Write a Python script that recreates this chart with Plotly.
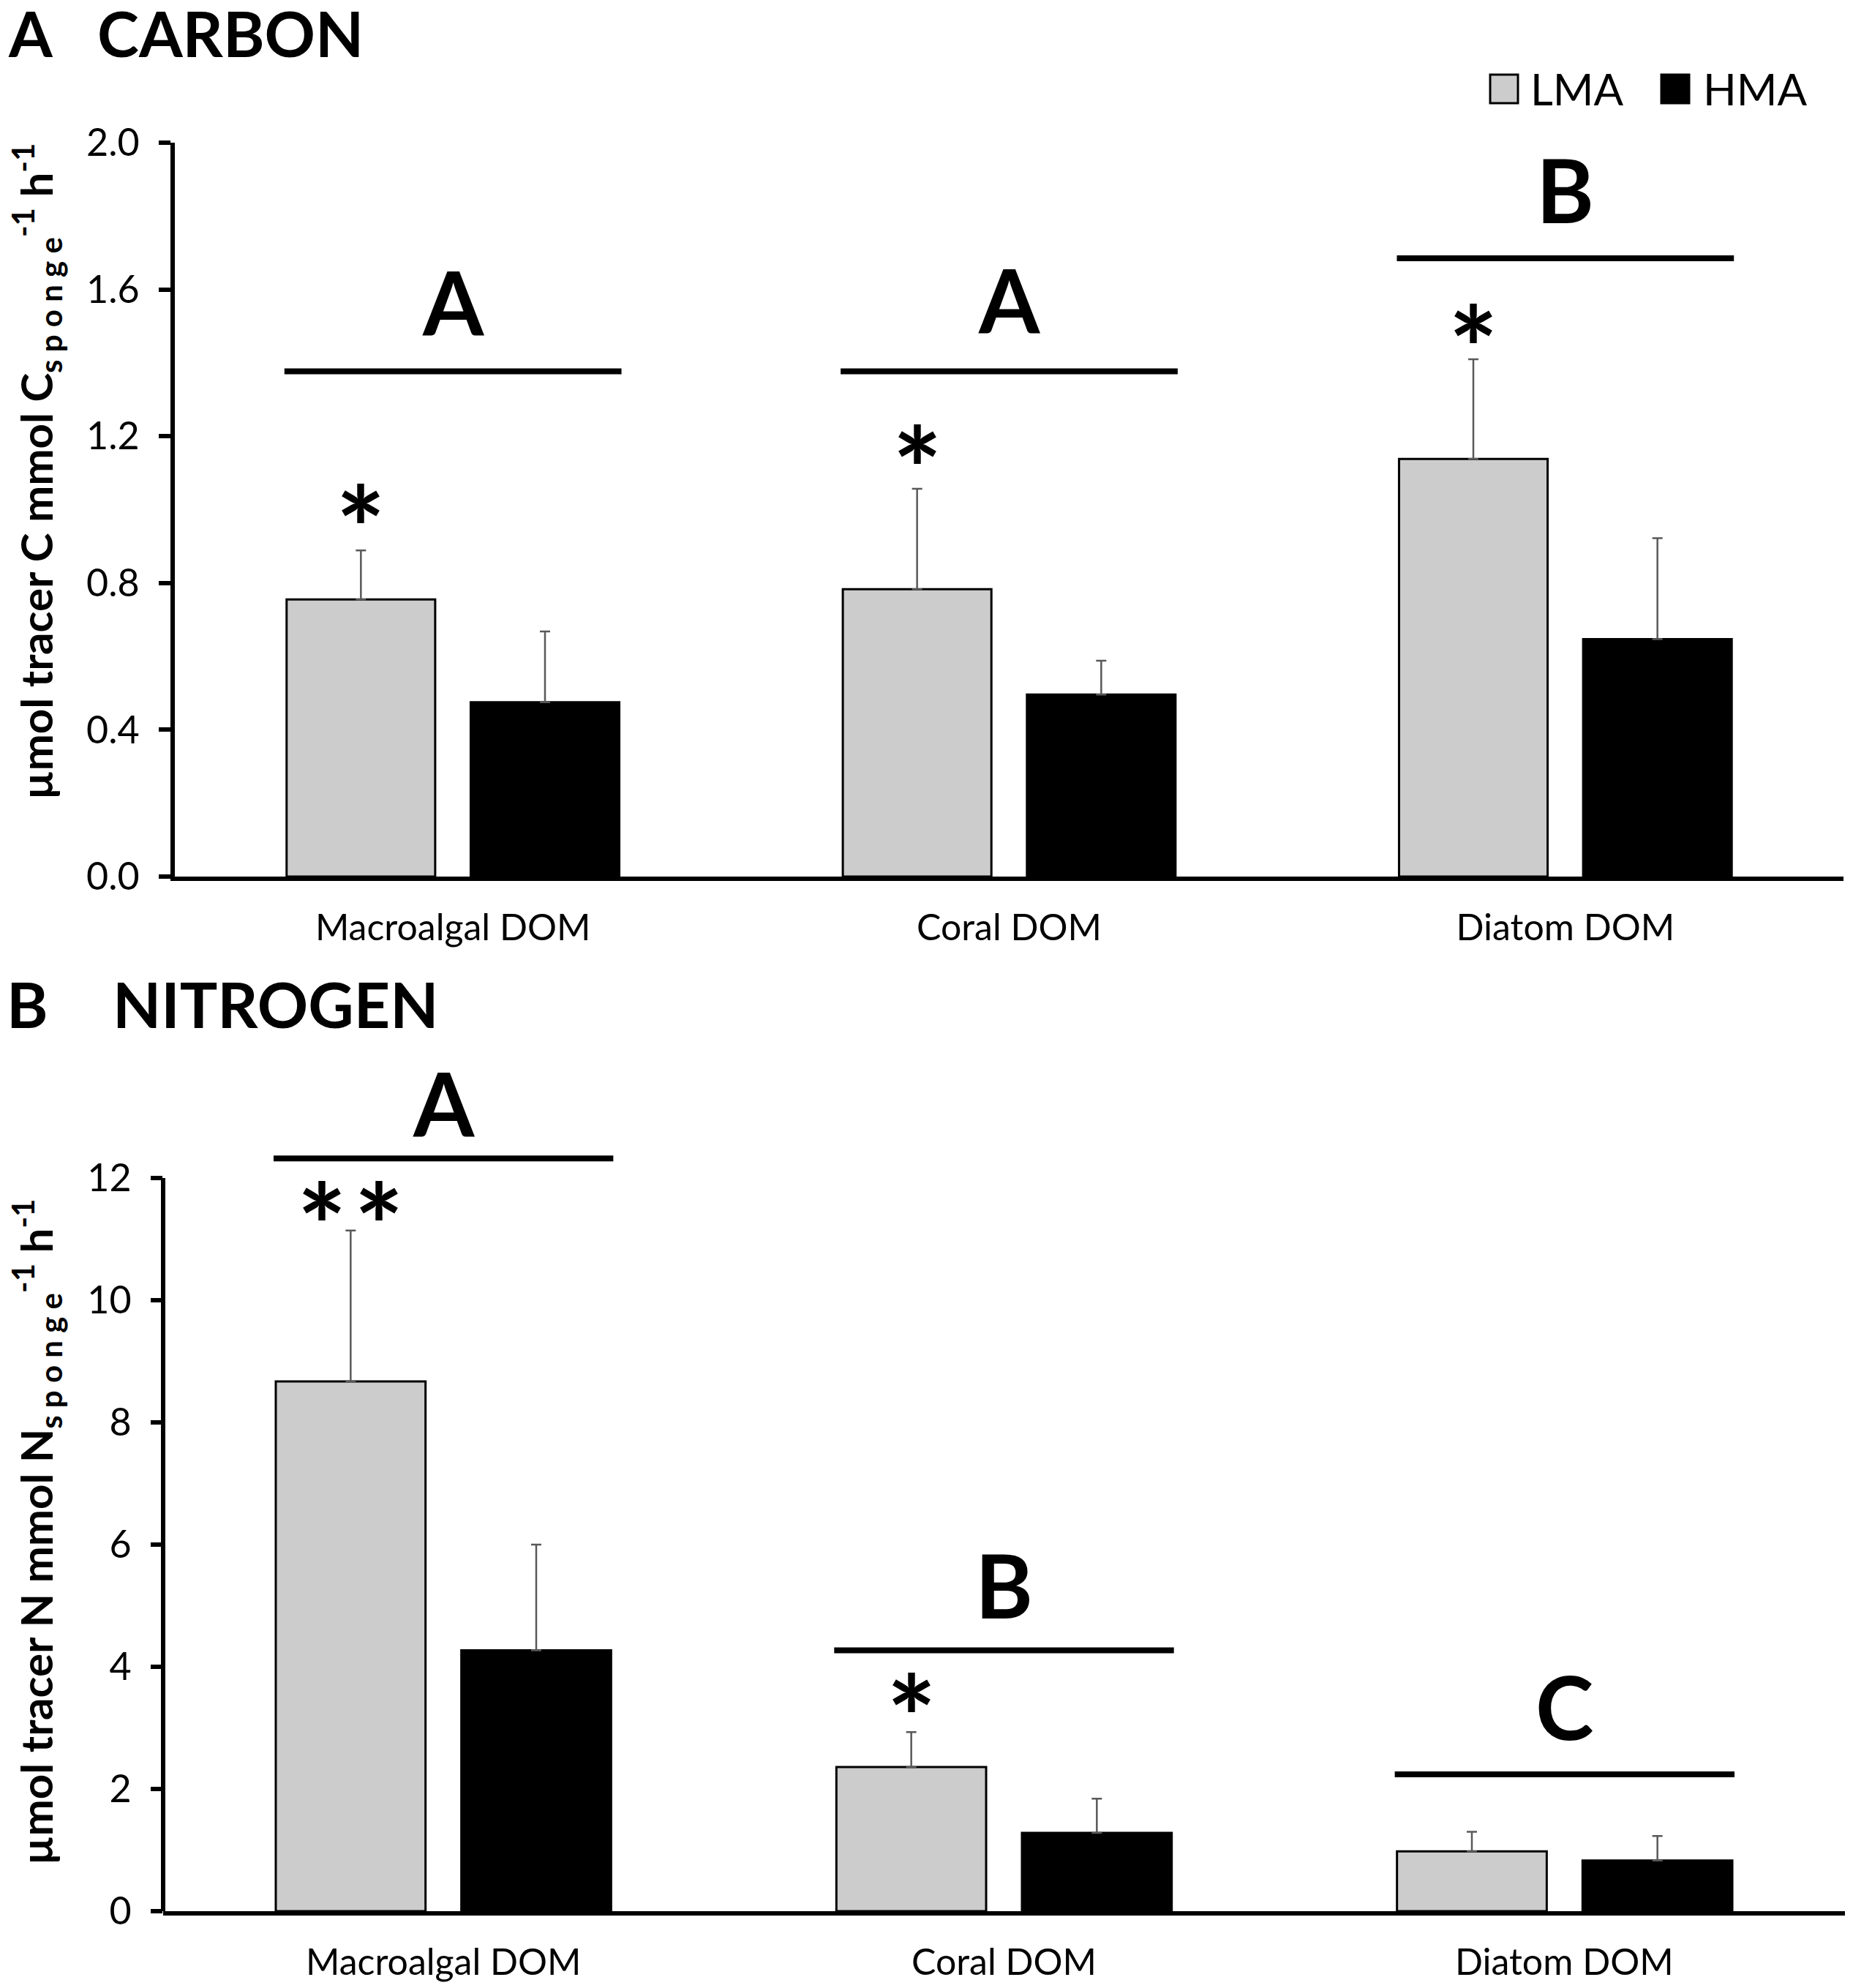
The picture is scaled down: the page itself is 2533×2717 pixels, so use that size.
import plotly.graph_objects as go

# ==================== figure size ====================
W, H = 2533, 2717          # browser window
BODY = 8                   # default <body> margin of the html page
FW, FH = W - 2 * BODY, H - 2 * BODY

# ==================== data ====================
CATEGORIES = ["Macroalgal DOM", "Coral DOM", "Diatom DOM"]

# A  CARBON  (µmol tracer C mmol C sponge-1 h-1)
CARBON_LMA = [0.755, 0.783, 1.138]
CARBON_LMA_SE = [0.134, 0.274, 0.272]
CARBON_HMA = [0.475, 0.496, 0.647]
CARBON_HMA_SE = [0.193, 0.092, 0.275]
CARBON_TICKS = [0.0, 0.4, 0.8, 1.2, 1.6, 2.0]
CARBON_LETTERS = ["A", "A", "B"]
CARBON_LETTER_Y = [1.565, 1.572, 1.872]
CARBON_LINE_Y = [1.377, 1.377, 1.685]
CARBON_STARS = ["*", "*", "*"]
CARBON_STAR_Y = [1.02, 1.182, 1.511]

# B  NITROGEN  (µmol tracer N mmol N sponge-1 h-1)
NITROGEN_LMA = [8.67, 2.36, 0.98]
NITROGEN_LMA_SE = [2.47, 0.57, 0.32]
NITROGEN_HMA = [4.27, 1.28, 0.83]
NITROGEN_HMA_SE = [1.73, 0.56, 0.40]
NITROGEN_TICKS = [0, 2, 4, 6, 8, 10, 12]
NITROGEN_LETTERS = ["A", "B", "C"]
NITROGEN_LETTER_Y = [13.22, 5.34, 3.35]
NITROGEN_LINE_Y = [12.32, 4.27, 2.24]
NITROGEN_STARS = ["*&#8202;*", "*", ""]
NITROGEN_STAR_Y = [11.65, 3.6, 0]

# ==================== styles ====================
COLOR_LMA = "#cccccc"
COLOR_HMA = "#000000"
COLOR_ERR = "#595959"
FONT = "Lato"

BARGAP = 0.338
BARGROUPGAP = 0.193
LMA_OFFSET = -(1 - BARGAP) / 4  # centre of the LMA bar inside its group
LINE_HALF = 0.303  # half length of the significance lines (category units)
STAR_SHIFT = -34   # the asterisk glyph sits high in its line box


def px_x(x):
    """window pixel -> paper fraction"""
    return (x - BODY) / FW


def px_y(y):
    return 1 - (y - BODY) / FH


def add_panel(fig, xa, ya, lma, lma_se, hma, hma_se, letters, letter_y,
              line_y, stars, star_y):
    """Add grouped bars, error bars and significance marks to one panel."""
    err = dict(type="data", symmetric=False, color=COLOR_ERR,
               thickness=2.5, width=7)
    fig.add_trace(go.Bar(
        x=CATEGORIES, y=lma, name="LMA", xaxis=xa, yaxis=ya,
        marker=dict(color=COLOR_LMA, line=dict(color="black", width=3)),
        error_y=dict(err, array=lma_se, arrayminus=[0] * len(lma)),
        showlegend=False,
    ))
    fig.add_trace(go.Bar(
        x=CATEGORIES, y=hma, name="HMA", xaxis=xa, yaxis=ya,
        marker=dict(color=COLOR_HMA, line=dict(color="black", width=3)),
        error_y=dict(err, array=hma_se, arrayminus=[0] * len(hma)),
        showlegend=False,
    ))
    for i, cat in enumerate(CATEGORIES):
        fig.add_shape(type="line", xref=xa, yref=ya,
                      x0=i - LINE_HALF, x1=i + LINE_HALF,
                      y0=line_y[i], y1=line_y[i],
                      line=dict(color="black", width=8))
        fig.add_annotation(x=i, y=letter_y[i], xref=xa, yref=ya,
                           text="<b>%s</b>" % letters[i], showarrow=False,
                           font=dict(family=FONT, size=120, color="black"))
        if stars[i]:
            fig.add_annotation(x=i + LMA_OFFSET, y=star_y[i], xref=xa, yref=ya,
                               text="<b>%s</b>" % stars[i], showarrow=False,
                               yshift=STAR_SHIFT,
                               font=dict(family=FONT, size=160, color="black"))


fig = go.Figure()
add_panel(fig, "x", "y", CARBON_LMA, CARBON_LMA_SE, CARBON_HMA, CARBON_HMA_SE,
          CARBON_LETTERS, CARBON_LETTER_Y, CARBON_LINE_Y, CARBON_STARS,
          CARBON_STAR_Y)
add_panel(fig, "x2", "y2", NITROGEN_LMA, NITROGEN_LMA_SE, NITROGEN_HMA,
          NITROGEN_HMA_SE, NITROGEN_LETTERS, NITROGEN_LETTER_Y,
          NITROGEN_LINE_Y, NITROGEN_STARS, NITROGEN_STAR_Y)

xaxis_common = dict(
    type="category", range=[-0.5, 2.5], showline=True, linewidth=6,
    linecolor="black", ticks="", showgrid=False, zeroline=False,
    automargin=False,
    tickfont=dict(family=FONT, size=50, color="black"),
)
yaxis_common = dict(
    showgrid=False, zeroline=False, ticks="outside", ticklen=16, tickwidth=6,
    tickcolor="black", linecolor="black", linewidth=6, automargin=False,
    tickfont=dict(family=FONT, size=52, color="black"), ticklabelstandoff=16,
)

fig.update_layout(
    width=FW, height=FH, autosize=False,
    margin=dict(l=0, r=0, t=0, b=0, pad=0, autoexpand=False),
    paper_bgcolor="white", plot_bgcolor="white",
    barmode="group", bargap=BARGAP, bargroupgap=BARGROUPGAP,
    font=dict(family=FONT, color="black"),
    xaxis=dict(xaxis_common, domain=[px_x(239), px_x(2520)], anchor="y",
               ticklabelstandoff=21),
    yaxis=dict(yaxis_common, domain=[px_y(1198), px_y(195)], anchor="x",
               range=[0, 2.0], tickvals=CARBON_TICKS, tickformat=".1f",
               showline=True),
    xaxis2=dict(xaxis_common, domain=[px_x(223), px_x(2522)], anchor="y2",
                showticklabels=False),
    yaxis2=dict(yaxis_common, domain=[px_y(2612), px_y(1443)], anchor="x2",
                range=[0, 14], tickvals=NITROGEN_TICKS, showline=False),
)

# bottom category labels, placed on the x2 scale
for i, cat in enumerate(CATEGORIES):
    fig.add_annotation(x=i, y=px_y(2680), xref="x2", yref="paper",
                       yanchor="middle", showarrow=False, text=cat,
                       font=dict(family=FONT, size=50, color="black"))

# bottom y axis line stops at the last tick (12)
fig.add_shape(type="line", xref="x2 domain", yref="y2", x0=0, x1=0,
              y0=NITROGEN_TICKS[0], y1=NITROGEN_TICKS[-1],
              line=dict(color="black", width=6))

# panel titles
for txt, x, y in [("A", 9, 44), ("CARBON", 131, 44),
                  ("B", 7, 1371), ("NITROGEN", 152, 1371)]:
    fig.add_annotation(x=px_x(x), y=px_y(y), xref="paper", yref="paper",
                       xanchor="left", yanchor="middle", showarrow=False,
                       text="<b>%s</b>" % txt,
                       font=dict(family=FONT, size=86, color="black"))

# y axis titles
for elem, yc in [("C", 645), ("N", 2094)]:
    fig.add_annotation(
        x=px_x(50), y=px_y(yc), xref="paper", yref="paper", textangle=-90,
        showarrow=False, xanchor="center", yanchor="middle",
        text="<b>µmol tracer %s mmol %s<sub>s p o n g e</sub>"
             "<sup>-1</sup> h<sup>-1</sup></b>" % (elem, elem),
        font=dict(family=FONT, size=60, color="black"))

# legend
for name, color, x0, tx in [("LMA", COLOR_LMA, 2037, 2090),
                            ("HMA", COLOR_HMA, 2271, 2326)]:
    fig.add_shape(type="rect", xref="paper", yref="paper",
                  x0=px_x(x0), x1=px_x(x0 + 38), y0=px_y(141), y1=px_y(102),
                  fillcolor=color, line=dict(color="black", width=3))
    fig.add_annotation(x=px_x(tx), y=px_y(121), xref="paper", yref="paper",
                       xanchor="left", yanchor="middle", showarrow=False,
                       text=name, font=dict(family=FONT, size=60, color="black"))

fig.write_html("out.html")
